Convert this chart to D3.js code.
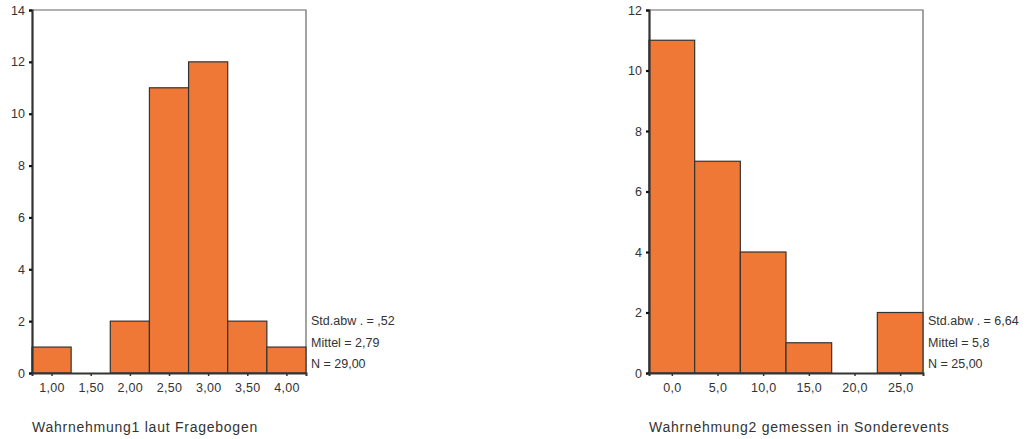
<!DOCTYPE html>
<html>
<head>
<meta charset="utf-8">
<script src="https://cdn.jsdelivr.net/npm/d3@7"></script>
<style>
  html, body { margin: 0; padding: 0; background: #fff; }
  svg { display: block; font-family: "Liberation Sans", Arial, sans-serif; }
</style>
</head>
<body>
<svg id="chart" width="1026" height="439"></svg>
<script>
// Histogram 1: Wahrnehmung1 (bin centres and counts)
const bins1 = [1.00, 1.50, 2.00, 2.50, 3.00, 3.50, 4.00];
const counts1 = [1, 0, 2, 11, 12, 2, 1];
const xTicks1 = ["1,00", "1,50", "2,00", "2,50", "3,00", "3,50", "4,00"];
const yTicks1 = [0, 2, 4, 6, 8, 10, 12, 14];
const stats1 = ["Std.abw . = ,52", "Mittel = 2,79", "N = 29,00"];
const title1 = "Wahrnehmung1 laut Fragebogen";

// Histogram 2: Wahrnehmung2
const bins2 = [0, 5, 10, 15, 20, 25];
const counts2 = [11, 7, 4, 1, 0, 2];
const xTicks2 = ["0,0", "5,0", "10,0", "15,0", "20,0", "25,0"];
const yTicks2 = [0, 2, 4, 6, 8, 10, 12];
const stats2 = ["Std.abw . = 6,64", "Mittel = 5,8", "N = 25,00"];
const title2 = "Wahrnehmung2 gemessen in Sonderevents";

const svg = d3.select("#chart");
const barFill = "#f07836";
const textCol = "#333";

function histogram(opts) {
  const { left, right, top, bottom, bins, counts, binWidth, xLabels, yTicks, yMax, stats, title } = opts;
  const g = svg.append("g");
  const x = d3.scaleLinear()
    .domain([bins[0] - binWidth / 2, bins[bins.length - 1] + binWidth / 2])
    .range([left, right]);
  const y = d3.scaleLinear().domain([0, yMax]).range([bottom, top]);

  // frame: top and right in grey
  g.append("path")
    .attr("d", `M${left},${top}H${right}V${bottom}`)
    .attr("fill", "none").attr("stroke", "#666").attr("stroke-width", 1.2);

  // bars
  g.selectAll("rect.bar")
    .data(bins.map((b, i) => ({ b, c: counts[i] })).filter(d => d.c > 0))
    .join("rect")
    .attr("class", "bar")
    .attr("x", d => x(d.b - binWidth / 2))
    .attr("y", d => y(d.c))
    .attr("width", d => x(d.b + binWidth / 2) - x(d.b - binWidth / 2))
    .attr("height", d => y(0) - y(d.c))
    .attr("fill", barFill)
    .attr("stroke", "#333")
    .attr("stroke-width", 1.2);

  // y axis
  const yAxis = d3.axisLeft(y).tickValues(yTicks).tickSize(3).tickPadding(4).tickFormat(d3.format("d"));
  const ya = g.append("g").attr("transform", `translate(${left},0)`).call(yAxis);
  ya.select(".domain").attr("stroke", "#333").attr("stroke-width", 2.2);
  ya.selectAll(".tick line").attr("stroke", "#111").attr("stroke-width", 2.2);
  ya.selectAll(".tick text").attr("fill", textCol).attr("font-size", 12.5)
    .attr("font-family", "Liberation Sans, Arial, sans-serif");

  // x axis
  const xAxis = d3.axisBottom(x).tickValues(bins).tickSize(3).tickPadding(7)
    .tickFormat((d, i) => xLabels[i]);
  const xa = g.append("g").attr("transform", `translate(0,${bottom})`).call(xAxis);
  xa.select(".domain").attr("stroke", "#333").attr("stroke-width", 2);
  xa.selectAll(".tick line").attr("stroke", "#333").attr("stroke-width", 1.5);
  xa.selectAll(".tick text").attr("fill", textCol).attr("font-size", 12.5)
    .attr("letter-spacing", 0.3)
    .attr("font-family", "Liberation Sans, Arial, sans-serif");

  // summary statistics
  g.selectAll("text.stat")
    .data(stats)
    .join("text")
    .attr("class", "stat")
    .attr("x", right + 5)
    .attr("y", (d, i) => bottom - 48 + i * 21.5)
    .attr("font-size", 12.5)
    .attr("letter-spacing", 0)
    .attr("fill", textCol)
    .text(d => d);

  // variable name
  g.append("text")
    .attr("x", left)
    .attr("y", bottom + 59)
    .attr("font-size", 14)
    .attr("letter-spacing", 0.75)
    .attr("fill", textCol)
    .text(title);
}

histogram({
  left: 32, right: 306, top: 10, bottom: 373,
  bins: bins1, counts: counts1, binWidth: 0.5,
  xLabels: xTicks1, yTicks: yTicks1, yMax: 14,
  stats: stats1, title: title1
});

histogram({
  left: 649, right: 923, top: 10, bottom: 373,
  bins: bins2, counts: counts2, binWidth: 5,
  xLabels: xTicks2, yTicks: yTicks2, yMax: 12,
  stats: stats2, title: title2
});
</script>
</body>
</html>
